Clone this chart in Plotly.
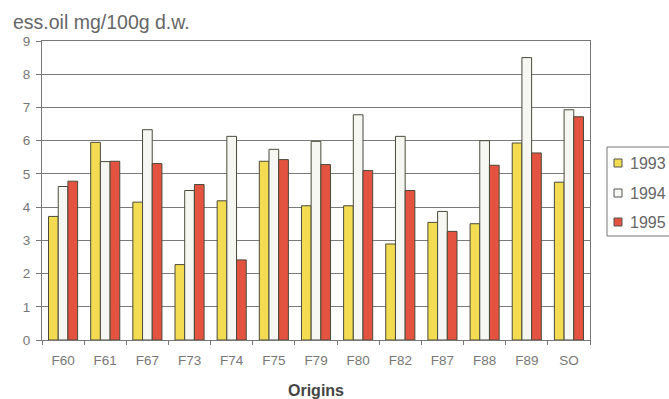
import plotly.graph_objects as go

origins = ["F60", "F61", "F67", "F73", "F74", "F75", "F79", "F80", "F82", "F87", "F88", "F89", "SO"]
years = ["1993", "1994", "1995"]
v1993 = [3.72, 5.95, 4.15, 2.27, 4.19, 5.38, 4.04, 4.04, 2.89, 3.54, 3.50, 5.93, 4.75]
v1994 = [4.62, 5.37, 6.33, 4.50, 6.13, 5.74, 5.98, 6.78, 6.13, 3.87, 6.00, 8.50, 6.93]
v1995 = [4.78, 5.38, 5.31, 4.68, 2.41, 5.43, 5.28, 5.10, 4.50, 3.27, 5.26, 5.63, 6.72]
series = [v1993, v1994, v1995]
colors = ["#F3DC52", "#F6F7F2", "#E4533F"]
OUTLINE = "#4a4a3a"
FONT = "Liberation Sans, Arial, sans-serif"

W, H = 669, 399
L, R, T, B = 42, 590, 41, 340


def px(x):
    return (x - L) / (R - L)


def py(y):
    return (B - y) / (B - T)


fig = go.Figure()
for i, (name, vals) in enumerate(zip(years, series)):
    fig.add_trace(go.Bar(
        x=origins, y=vals, name=name, showlegend=False,
        marker=dict(color=colors[i], line=dict(color=OUTLINE, width=1)),
    ))

box_line = dict(color="#777777", width=1)
shapes = [
    dict(type="line", xref="paper", yref="paper", x0=px(607), x1=px(669), y0=py(147), y1=py(147), line=box_line),
    dict(type="line", xref="paper", yref="paper", x0=px(607), x1=px(669), y0=py(236), y1=py(236), line=box_line),
    dict(type="line", xref="paper", yref="paper", x0=px(607), x1=px(607), y0=py(147), y1=py(236), line=box_line),
]
annotations = []
legend_y = [163, 193, 222]
for i, name in enumerate(years):
    yc = legend_y[i]
    shapes.append(dict(type="rect", xref="paper", yref="paper",
                       x0=px(614), x1=px(622), y0=py(yc + 4), y1=py(yc - 4),
                       line=dict(color="#555555", width=1), fillcolor=colors[i], layer="above"))
    annotations.append(dict(text=name, xref="paper", yref="paper", x=px(628), y=py(yc),
                            xanchor="left", yanchor="middle", showarrow=False,
                            font=dict(family=FONT, size=16, color="#666666")))

annotations.append(dict(text="ess.oil mg/100g d.w.", xref="paper", yref="paper",
                        x=px(11), y=py(22), xanchor="left", yanchor="middle", showarrow=False,
                        font=dict(family=FONT, size=19.5, color="#666666")))

fig.update_layout(
    width=W, height=H,
    margin=dict(l=L, r=W - R, t=T, b=H - B, autoexpand=False),
    paper_bgcolor="white", plot_bgcolor="white",
    font=dict(family=FONT, color="#666666", size=13),
    barmode="group", bargap=0.31, bargroupgap=0,
    showlegend=False,
    shapes=shapes, annotations=annotations,
    xaxis=dict(
        type="category", tickson="boundaries", ticks="outside", ticklen=4,
        tickcolor="#777777", showline=True, linecolor="#777777", mirror=True,
        showgrid=False, tickfont=dict(size=13.5, color="#777777"), ticklabelstandoff=8,
        title=dict(text="<b>Origins</b>", font=dict(family=FONT, size=16, color="#444444"), standoff=24),
    ),
    yaxis=dict(
        range=[0, 9], dtick=1, ticks="outside", ticklen=5, tickcolor="#777777",
        showline=True, linecolor="#777777", mirror=True,
        showgrid=True, gridcolor="#7a7a7a", gridwidth=1,
        tickfont=dict(size=13.5, color="#777777"), zeroline=False, ticklabelstandoff=3,
    ),
)

fig.write_html("out.html", config={"displayModeBar": False},
               post_script="document.body.style.margin='0';")
